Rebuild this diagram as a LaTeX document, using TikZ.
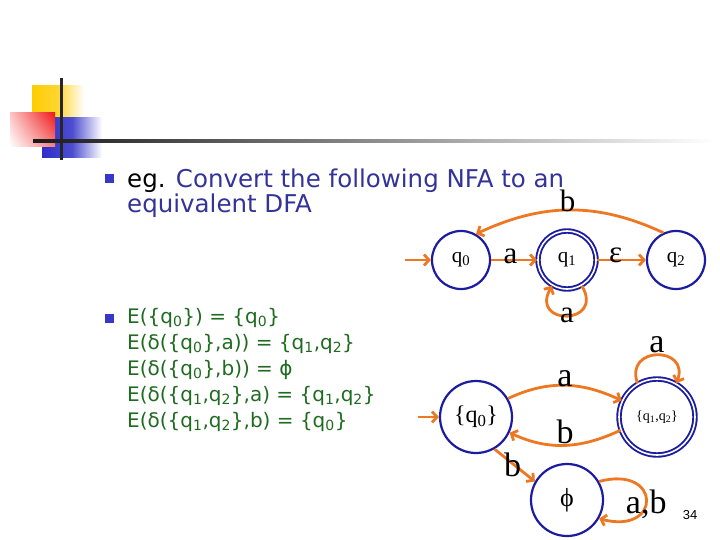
\documentclass[tikz,border=0pt]{standalone}
\usepackage{fontspec}
\setmainfont{DejaVu Sans}
\newfontfamily\lblfont{Liberation Serif}
\newfontfamily\pgfont{Liberation Sans}
\usetikzlibrary{arrows.meta,positioning,shadings}
\definecolor{navy}{HTML}{333399}
\definecolor{ring}{HTML}{1C1CA0}
\definecolor{arc}{HTML}{EE7722}
\definecolor{leaf}{HTML}{1F6B1F}
\definecolor{mark}{HTML}{3838C8}
\definecolor{sun}{HTML}{FFCC00}
\definecolor{blu}{HTML}{2E2EC8}
\definecolor{rd}{HTML}{F01818}
\tikzset{
  st/.style={circle,draw=ring,line width=2.2pt,fill=white,inner sep=0pt,font=\lblfont},
  sta/.style={st,double=white,double distance=1.6pt,line width=1.9pt},
  ar/.style={-{Straight Barb[length=5pt,width=11pt]},draw=arc,line width=2.8pt},
  lbl/.style={inner sep=1pt,font=\lblfont\fontsize{31}{31}\selectfont},
  lblb/.style={lbl,font=\lblfont\fontsize{34}{34}\selectfont},
  txt/.style={anchor=base west,inner sep=0pt,font=\fontsize{20}{26}\selectfont},
  hdr/.style={txt,font=\fontsize{24.5}{26}\selectfont},
  eq/.style={txt,text=leaf},
  bul/.style={fill=mark,minimum size=9pt,inner sep=0pt},
}

\begin{document}
\begin{tikzpicture}[x=1pt,y=1pt]
\useasboundingbox (0,0) rectangle (720,-540);
% header ornament
\shade[left color=sun,right color=white,middle color=sun!80] (32,-86) rectangle (84,-118);
\shade[left color=blu,right color=white,middle color=blu!85] (42,-118) rectangle (102,-158);
\shade[upper right=rd,upper left=rd!25,lower right=rd!55,lower left=white] (10,-113) rectangle (55,-147);
\fill[black!85] (59.5,-78) rectangle (62.5,-160);
\shade[left color=black!90,right color=white] (33,-139.5) rectangle (715,-142.5);
% bullets and text
\node[bul] (b1) at (109.5,-179) {};
\node[hdr] (l1) at (127,-188) {eg. \textcolor{navy}{Convert the following NFA to an}};
\node[hdr,text=navy] (l2) at (127,-213) {equivalent DFA};
\node[bul] (b2) at (109.5,-318.5) {};
\node[eq] (e1) at (127,-323) {E(\{q\textsubscript{0}\}) = \{q\textsubscript{0}\}};
\node[eq] (e2) at (127,-349) {E(δ(\{q\textsubscript{0}\},a)) = \{q\textsubscript{1},q\textsubscript{2}\}};
\node[eq] (e3) at (127,-375) {E(δ(\{q\textsubscript{0}\},b)) = ϕ};
\node[eq] (e4) at (127,-401) {E(δ(\{q\textsubscript{1},q\textsubscript{2}\},a) = \{q\textsubscript{1},q\textsubscript{2}\}};
\node[eq] (e5) at (127,-427) {E(δ(\{q\textsubscript{1},q\textsubscript{2}\},b) = \{q\textsubscript{0}\}};
% NFA
\node[st,minimum size=58pt,font=\lblfont\fontsize{21}{21}\selectfont] (q0) at (461,-260) {q\textsubscript{0}};
\node[sta,minimum size=58pt,font=\lblfont\fontsize{21}{21}\selectfont] (q1) at (567,-260) {q\textsubscript{1}};
\node[st,minimum size=58pt,font=\lblfont\fontsize{21}{21}\selectfont] (q2) at (676,-260) {q\textsubscript{2}};
\coordinate (in1) at (405,-260);
\draw[ar] (in1) -- (q0);
\draw[ar] (q0) -- node[lbl,pos=.42,yshift=4pt] (la) {a} (q1);
\draw[ar] (q1) -- node[lbl,pos=.38,yshift=5pt] (leps) {ε} (q2);
\draw[ar] (q2.115) to[out=155,in=25] node[lbl,above=-4pt,xshift=-2pt] (lb) {b} (q0.60);
\draw[ar] (q1.-60) .. controls +(-60:46) and +(-120:46) .. node[lbl] (laa) {a} (q1.-120);
% DFA
\node[st,minimum size=72pt,font=\lblfont\fontsize{24}{24}\selectfont] (s0) at (476,-417) {\{q\textsubscript{0}\}};
\node[sta,minimum size=76pt,font=\lblfont\fontsize{14}{14}\selectfont] (s12) at (657,-417) {\{q\textsubscript{1},q\textsubscript{2}\}};
\node[st,minimum size=72pt,font=\lblfont\fontsize{26}{26}\selectfont] (se) at (567,-500) {ϕ};
\coordinate (in2) at (418,-417);
\draw[ar] (in2) -- (s0);
\draw[ar] (s0.30) to[out=25,in=155] node[lblb,yshift=7pt] (da) {a} (s12.155);
\draw[ar] (s12.200) to[out=205,in=-25] node[lblb,above,inner sep=0pt] (db) {b} (s0.-25);
\draw[ar] (s0.-60) -- node[lblb,xshift=-2pt] (dbe) {b} (se.150);
\draw[ar] (s12.120) .. controls +(110:40) and +(70:40) .. node[lblb,above] (daa) {a} (s12.60);
\draw[ar] (se.30) .. controls +(15:65) and +(-15:65) .. node[lblb,yshift=-4pt] (dab) {a,b} (se.-30);
\node[font=\pgfont\fontsize{13}{13}\selectfont] (pg) at (690,-515) {34};
\end{tikzpicture}
\end{document}
